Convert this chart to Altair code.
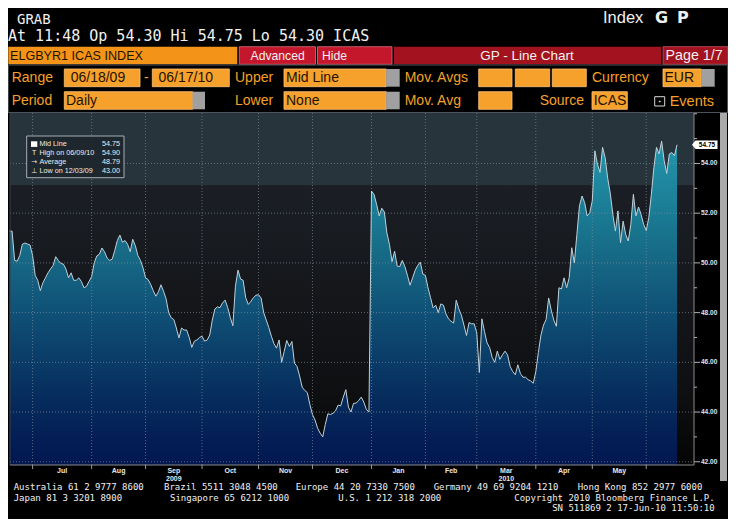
import altair as alt
import pandas as pd

# ---------------- data (one value per weekday) ----------------
jun09 = [51.28, 51.28, 50.10, 50.07, 50.30, 50.75, 50.80, 50.76, 50.72]
jul09 = [50.30, 49.50, 49.30, 48.88, 49.20, 49.40, 49.60, 49.76, 49.90, 50.25, 50.10, 49.98,
         49.95, 49.75, 49.40, 49.60, 49.30, 49.30, 49.40, 49.25, 49.00, 49.06, 49.26]
aug09 = [49.45, 50.00, 50.28, 50.35, 50.60, 50.45, 50.20, 50.10, 50.15, 50.50, 50.90, 51.12,
         50.83, 50.90, 50.75, 50.45, 50.95, 50.70, 50.30, 50.10, 49.80]
sep09 = [49.40, 49.33, 49.13, 48.88, 48.66, 48.84, 49.12, 48.86, 48.55, 48.00, 47.79, 47.72,
         47.38, 46.98, 47.38, 47.30, 47.30, 47.00, 46.60, 46.85, 46.90, 47.00]
oct09 = [47.05, 46.85, 46.90, 47.10, 47.70, 48.15, 48.23, 48.20, 48.40, 48.50, 48.20, 47.80,
         47.47, 49.06, 49.71, 49.35, 49.30, 48.60, 48.33, 48.45, 48.60, 48.70]
nov09 = [48.72, 48.59, 48.00, 47.70, 47.40, 47.05, 46.75, 46.57, 46.90, 46.00, 46.44, 46.88,
         46.64, 46.84, 45.97, 45.83, 45.45, 45.00, 44.87, 44.78, 44.30]
dec09 = [43.90, 43.68, 43.35, 43.15, 43.00, 43.50, 43.93, 43.90, 43.95, 44.05, 44.28, 44.25,
         44.60, 44.90, 44.20, 44.00, 44.35, 44.36, 44.46, 44.60, 44.40, 44.10, 44.00]
jan10 = [52.89, 52.75, 52.35, 51.89, 52.20, 52.05, 51.20, 50.74, 50.05, 50.47, 49.87, 49.85,
         50.10, 49.85, 49.50, 49.10, 49.40, 49.70, 49.90, 50.03, 49.55]
feb10 = [49.50, 49.00, 48.60, 48.19, 48.30, 48.00, 48.35, 48.30, 47.95, 47.75, 47.65, 47.58,
         48.50, 48.15, 47.90, 47.50, 47.08, 47.60, 47.55, 47.55]
mar10 = [47.18, 45.59, 47.75, 47.24, 46.78, 46.60, 46.20, 46.00, 46.45, 46.12, 46.30, 46.45,
         46.30, 45.83, 45.63, 45.50, 45.90, 45.55, 45.40, 45.40, 45.30, 45.25, 45.16]
apr10 = [45.63, 46.40, 47.10, 47.50, 47.72, 48.59, 48.10, 47.70, 47.45, 49.00, 48.95, 49.40,
         49.00, 49.40, 50.61, 50.00, 51.15, 52.30, 52.69, 52.43, 51.89, 52.02]
may10 = [52.50, 54.51, 53.97, 53.64, 54.65, 54.24, 53.40, 52.80, 51.95, 51.28, 52.09, 50.81,
         51.68, 51.15, 50.88, 51.55, 52.76, 51.89, 52.25, 51.95, 51.55]
jun10 = [51.30, 51.82, 52.76, 53.84, 54.65, 54.38, 54.90, 54.10, 53.60, 54.38, 54.44, 54.31, 54.75]

start_date, end_date = "2009-06-18", "2010-06-17"
y_major = [42, 44, 46, 48, 50, 52, 54]
y_minor = [43, 45, 47, 49, 51, 53, 55, 56]
year_under_month = [("2009", "Sep"), ("2010", "Mar")]

legend_rows = ["Mid Line", "High on 06/09/10", "Average", "Low on 12/03/09"]
legend_vals = ["54.75", "54.90", "48.79", "43.00"]

header_line = "At 11:48  Op 54.30 Hi 54.75 Lo 54.30  ICAS"
footer1 = ["Australia 61 2 9777 8600", "Brazil 5511 3048 4500", "Europe 44 20 7330 7500",
           "Germany 49 69 9204 1210", "Hong Kong 852 2977 6000"]
footer2 = ["Japan 81 3 3201 8900", "Singapore 65 6212 1000", "U.S. 1 212 318 2000",
           "Copyright 2010 Bloomberg Finance L.P."]
footer3 = "SN 511869 2 17-Jun-10 11:50:10"

# ---------------- tables ----------------
values = sum([jun09, jul09, aug09, sep09, oct09, nov09, dec09, jan10, feb10, mar10,
              apr10, may10, jun10], [])
dates = pd.bdate_range(start_date, end_date)
df = pd.DataFrame({"date": dates, "idx": range(len(values)), "v": values})

per = df["date"].dt.to_period("M")
starts = df.groupby(per)["idx"].min().iloc[1:]          # first weekday of each month
month_df = pd.DataFrame({"idx": starts.values})
mids = []
sv = list(starts.values)
for a, b in zip(sv[:-1], sv[1:]):
    mids.append({"mid": (a + b) / 2.0, "label": df.loc[a, "date"].strftime("%b")})
mid_df = pd.DataFrame(mids)
year_df = pd.DataFrame([{"mid": mid_df.loc[mid_df.label == m, "mid"].iloc[0], "label": y}
                        for y, m in year_under_month])
major_df = pd.DataFrame({"v": y_major, "lab": [f"{v:.2f}" for v in y_major]})
minor_df = pd.DataFrame({"v": y_minor})
last_df = df.tail(1)

# ---------------- scales ----------------
XS = alt.Scale(domain=[0, 267], range=[1.5, 687], nice=False, zero=False)
YS = alt.Scale(domain=[41.87, 56.03], range=[457, 105], nice=False, zero=False)


def X(f):
    return alt.X(f, type="quantitative", scale=XS, axis=None)


def Y(f):
    return alt.Y(f, type="quantitative", scale=YS, axis=None)


ONE = alt.Data(values=[{"k": 0}])
MONO = "DejaVu Sans Mono"
SANS = "Liberation Sans"
WHITE = "#f0f0f0"
ORANGE = "#f7a12d"
ORANGE_T = "#f5a02a"
DARK_T = "#1e1200"
GRAYBOX = "#a0a0a0"
RED_BTN = "#c4172c"
RED_BAR = "#a3121f"


def box(x1, y1, x2, y2, fill, stroke=None, sw=1.0, fo=1.0):
    kw = dict(fill=fill, fillOpacity=fo)
    if stroke:
        kw.update(stroke=stroke, strokeWidth=sw)
    else:
        kw.update(strokeWidth=0)
    return alt.Chart(ONE).mark_rect(**kw).encode(
        x=alt.value(x1 - 8), x2=alt.value(x2 - 8), y=alt.value(y1 - 8), y2=alt.value(y2 - 8))


def txt(x, y, s, size, color, font, align="left", baseline="middle", weight="normal"):
    return alt.Chart(ONE).mark_text(text=s, fontSize=size, color=color, font=font, align=align,
                                    baseline=baseline, fontWeight=weight).encode(
        x=alt.value(x - 8), y=alt.value(y - 8))


def hline(x1, x2, y, color, w=1.0):
    return alt.Chart(ONE).mark_rule(color=color, strokeWidth=w).encode(
        x=alt.value(x1 - 8), x2=alt.value(x2 - 8), y=alt.value(y - 8))


def vline(x, y1, y2, color, w=1.0):
    return alt.Chart(ONE).mark_rule(color=color, strokeWidth=w).encode(
        x=alt.value(x - 8), y=alt.value(y1 - 8), y2=alt.value(y2 - 8))


layers = []

# ---------------- plot area ----------------
bg_grad = alt.Gradient(gradient="linear", x1=0, x2=0, y1=0, y2=1, stops=[
    alt.GradientStop(offset=0, color="#28343b"),
    alt.GradientStop(offset=0.205, color="#28343b"),
    alt.GradientStop(offset=0.206, color="#1b1f25"),
    alt.GradientStop(offset=0.5, color="#15171b"),
    alt.GradientStop(offset=0.8, color="#0e0f11"),
    alt.GradientStop(offset=1, color="#050505")])
layers.append(alt.Chart(ONE).mark_rect(fill=bg_grad, strokeWidth=0).encode(
    x=alt.value(2), x2=alt.value(686), y=alt.value(105), y2=alt.value(457)))

area_grad = alt.Gradient(gradient="linear", x1=0, x2=0, y1=0, y2=1, stops=[
    alt.GradientStop(offset=0, color="#2396ad"),
    alt.GradientStop(offset=0.18, color="#1c8199"),
    alt.GradientStop(offset=0.335, color="#176c87"),
    alt.GradientStop(offset=0.49, color="#11567a"),
    alt.GradientStop(offset=0.645, color="#0b406a"),
    alt.GradientStop(offset=0.8, color="#062b5c"),
    alt.GradientStop(offset=1, color="#021650")])
layers.append(alt.Chart(df).mark_area(fill=area_grad, strokeWidth=0).encode(
    x=X("idx"), y=Y("v"), y2=alt.datum(41.87)))

grid_col = "#8593a0"
layers.append(alt.Chart(major_df).mark_rule(color=grid_col, strokeDash=[1, 2], strokeWidth=0.8,
                                            opacity=0.8).encode(
    y=Y("v"), x=alt.value(2), x2=alt.value(686)))
layers.append(alt.Chart(month_df).mark_rule(color=grid_col, strokeDash=[1, 2], strokeWidth=0.8,
                                            opacity=0.8).encode(
    x=X("idx"), y=alt.value(105), y2=alt.value(457)))

layers.append(alt.Chart(df).mark_line(color="#c0d0d8", strokeWidth=1.0).encode(
    x=X("idx"), y=Y("v")))

# borders / axes
layers.append(hline(8, 728, 112.5, "#4d545c"))
layers.append(vline(10, 113, 465, "#3a4148"))
layers.append(hline(10, 694, 465, "#8a8a8a"))
layers.append(vline(694, 113, 465, "#8a8a8a"))

# x axis ticks and labels
layers.append(alt.Chart(month_df).mark_rule(color="#9a9a9a").encode(
    x=X("idx"), y=alt.value(457), y2=alt.value(461)))
layers.append(alt.Chart(mid_df).mark_text(font=SANS, fontSize=7, fontWeight="bold",
                                          color="#e8e8e8", baseline="middle").encode(
    x=X("mid"), y=alt.value(463), text="label:N"))
layers.append(alt.Chart(year_df).mark_text(font=SANS, fontSize=7, fontWeight="bold",
                                           color="#e8e8e8", baseline="middle").encode(
    x=X("mid"), y=alt.value(470.5), text="label:N"))

# y axis ticks and labels (right side)
layers.append(alt.Chart(major_df).mark_rule(color="#b0b0b0").encode(
    y=Y("v"), x=alt.value(686), x2=alt.value(692)))
layers.append(alt.Chart(minor_df).mark_rule(color="#b0b0b0").encode(
    y=Y("v"), x=alt.value(686), x2=alt.value(689)))
layers.append(alt.Chart(major_df).mark_text(font=SANS, fontSize=6.5, fontWeight="bold",
                                            color="#e4e4e4", align="left",
                                            baseline="middle").encode(
    y=Y("v"), x=alt.value(693), text="lab:N"))

# last value tag
TAG = "M-1.32,0 L-1,-0.39 L1,-0.39 L1,0.39 L-1,0.39 Z"
layers.append(alt.Chart(last_df).mark_point(shape=TAG, size=484, filled=True, color="#ffffff",
                                            opacity=1, strokeWidth=0).encode(
    x=alt.value(698.5), y=Y("v")))
layers.append(alt.Chart(last_df).mark_text(font=SANS, fontSize=6.5, fontWeight="bold",
                                           color="#000000", baseline="middle").encode(
    x=alt.value(699), y=Y("v"), text=alt.Text("v:Q", format=".2f")))

# legend box
layers.append(box(26.7, 136, 124, 177.7, "#1c262c", stroke="#a5aeb5", sw=1, fo=0.92))
row_y = [144.3, 153.2, 162.3, 171.2]
for lab, val, yy in zip(legend_rows, legend_vals, row_y):
    layers.append(txt(39.5, yy, lab, 7.2, "#ececec", SANS))
    layers.append(txt(120, yy, val, 7.2, "#ececec", SANS, align="right"))
layers.append(box(31, 141.3, 37.3, 146.9, "#ffffff"))
layers.append(txt(34.2, 153.4, "T", 7, "#ececec", SANS, align="center"))
layers.append(txt(34.2, 162.3, "→", 7, "#ececec", "DejaVu Sans", align="center"))
layers.append(txt(34.2, 171.2, "⊥", 7, "#ececec", "DejaVu Sans", align="center"))

# scrollbar on the right
layers.append(box(720, 113, 727, 481, "#a9a9a9"))

# ---------------- header ----------------
layers.append(txt(17, 24, "GRAB", 14, WHITE, MONO, baseline="alphabetic"))
layers.append(txt(8, 40.7, header_line, 15, WHITE, MONO, baseline="alphabetic"))
layers.append(txt(603, 23.3, "Index", 16.5, WHITE, SANS, baseline="alphabetic"))
layers.append(txt(655, 23.3, "G", 16, WHITE, "DejaVu Sans", baseline="alphabetic",
                  weight="bold"))
layers.append(txt(677, 23.3, "P", 16, WHITE, "DejaVu Sans", baseline="alphabetic",
                  weight="bold"))

# row 1
layers.append(box(8.3, 46.7, 237.3, 64.3, "#f39419"))
layers.append(txt(10, 56, "ELGBYR1 ICAS INDEX", 12.6, DARK_T, SANS))
layers.append(box(239.3, 46.7, 315.5, 64.3, RED_BTN, stroke="#e07080", sw=0.8))
layers.append(txt(250.5, 55.5, "Advanced", 12.2, WHITE, SANS))
layers.append(box(317.5, 46.7, 392, 64.3, RED_BTN, stroke="#e07080", sw=0.8))
layers.append(txt(322, 55.5, "Hide", 12.2, WHITE, SANS))
layers.append(box(394, 46.7, 661.3, 64.3, RED_BAR))
layers.append(txt(527, 55.5, "GP - Line Chart", 13.5, WHITE, SANS, align="center"))
layers.append(box(663, 46.7, 728, 64.3, RED_BAR, stroke="#d05060", sw=0.8))
layers.append(txt(665.5, 55.5, "Page 1/7", 14.3, WHITE, SANS))

# panel border rows 2-3
layers.append(box(8.3, 65, 727.5, 112.5, "#000000", stroke="#4d545c", sw=1, fo=0))

BOXS = "#ffc47a"
# row 2
r2a, r2b, r2c = 69, 86.7, 78.3
layers.append(txt(11.7, r2c, "Range", 14, ORANGE_T, SANS))
layers.append(box(64.3, r2a, 140, r2b, ORANGE, stroke=BOXS, sw=0.8))
layers.append(txt(70.7, r2c, "06/18/09", 14, DARK_T, SANS))
layers.append(txt(144, r2c, "-", 14, ORANGE_T, SANS))
layers.append(box(152.3, r2a, 229.3, r2b, ORANGE, stroke=BOXS, sw=0.8))
layers.append(txt(158.5, r2c, "06/17/10", 14, DARK_T, SANS))
layers.append(txt(235, r2c, "Upper", 14, ORANGE_T, SANS))
layers.append(box(284, r2a, 386.3, r2b, ORANGE, stroke=BOXS, sw=0.8))
layers.append(box(386.3, r2a, 399.7, r2b, GRAYBOX))
layers.append(txt(286, r2c, "Mid Line", 14, DARK_T, SANS))
layers.append(txt(404.7, r2c, "Mov. Avgs", 14, ORANGE_T, SANS))
for a, b in [(478.7, 512), (515.3, 549.7), (552.3, 586.3)]:
    layers.append(box(a, r2a, b, r2b, ORANGE, stroke=BOXS, sw=0.8))
layers.append(txt(592, r2c, "Currency", 14, ORANGE_T, SANS))
layers.append(box(663, r2a, 701.3, r2b, ORANGE, stroke=BOXS, sw=0.8))
layers.append(box(701.3, r2a, 714.7, r2b, GRAYBOX))
layers.append(txt(664.5, r2c, "EUR", 14, DARK_T, SANS))

# row 3
r3a, r3b, r3c = 91.7, 109.3, 100.5
layers.append(txt(11.7, r3c, "Period", 14, ORANGE_T, SANS))
layers.append(box(64.3, r3a, 192.7, r3b, ORANGE, stroke=BOXS, sw=0.8))
layers.append(box(192.7, r3a, 205, r3b, GRAYBOX))
layers.append(txt(66, r3c, "Daily", 14, DARK_T, SANS))
layers.append(txt(235, r3c, "Lower", 14, ORANGE_T, SANS))
layers.append(box(284, r3a, 386.3, r3b, ORANGE, stroke=BOXS, sw=0.8))
layers.append(box(386.3, r3a, 399.7, r3b, GRAYBOX))
layers.append(txt(286, r3c, "None", 14, DARK_T, SANS))
layers.append(txt(404.7, r3c, "Mov. Avg", 14, ORANGE_T, SANS))
layers.append(box(478.7, r3a, 512, r3b, ORANGE, stroke=BOXS, sw=0.8))
layers.append(txt(539.7, r3c, "Source", 14, ORANGE_T, SANS))
layers.append(box(592, r3a, 627.3, r3b, ORANGE, stroke=BOXS, sw=0.8))
layers.append(txt(593.7, r3c, "ICAS", 14, DARK_T, SANS))
layers.append(box(654.7, 96.7, 664.7, 106, "#000000", stroke="#d8d8d8", sw=1))
layers.append(box(658.8, 100.8, 660.6, 102.2, "#d8d8d8"))
layers.append(txt(669.7, r3c + 1, "Events", 14.5, ORANGE_T, SANS))

# ---------------- footer ----------------
FS = 9.0
f1_x = [13.7, 164.0, 295.7, 433.7, 577.7]
for s, xx in zip(footer1, f1_x):
    layers.append(txt(xx, 487.0, s, FS, WHITE, MONO))
for s, xx in zip(footer2[:3], [13.7, 170, 338.3]):
    layers.append(txt(xx, 497.6, s, FS, WHITE, MONO))
layers.append(txt(714.7, 497.6, footer2[3], FS, WHITE, MONO, align="right"))
layers.append(txt(714.7, 508.2, footer3, FS, WHITE, MONO, align="right"))

chart = alt.layer(*layers).properties(
    width=720, height=511, padding=0, autosize=alt.AutoSizeParams(type="none")
).configure(background="#000000").configure_view(strokeWidth=0)

chart.save("out.html", embed_options={"renderer": "svg", "actions": False})
